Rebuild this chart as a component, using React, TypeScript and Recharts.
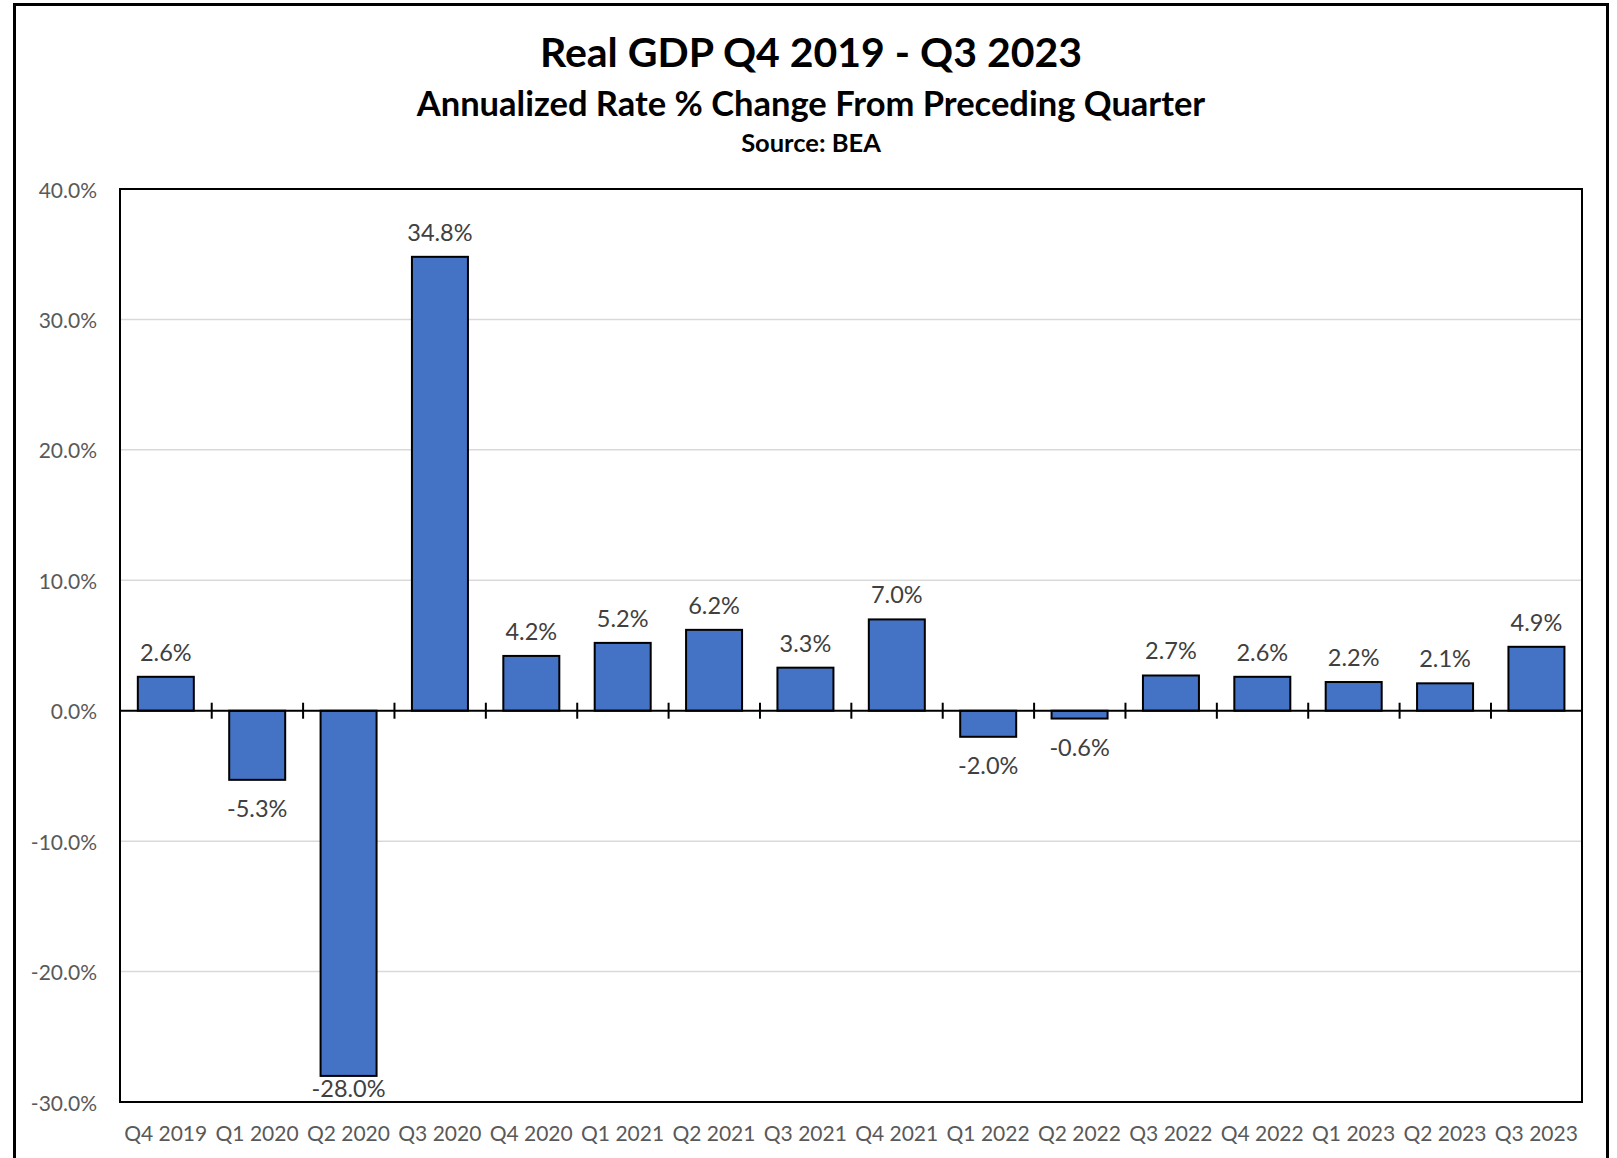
import React from 'react';
import { BarChart, Bar, XAxis, YAxis, CartesianGrid, ReferenceLine, ReferenceArea, LabelList } from 'recharts';

const quarters = ['Q4 2019', 'Q1 2020', 'Q2 2020', 'Q3 2020', 'Q4 2020', 'Q1 2021', 'Q2 2021', 'Q3 2021', 'Q4 2021', 'Q1 2022', 'Q2 2022', 'Q3 2022', 'Q4 2022', 'Q1 2023', 'Q2 2023', 'Q3 2023'];
const gdpChange = [2.6, -5.3, -28.0, 34.8, 4.2, 5.2, 6.2, 3.3, 7.0, -2.0, -0.6, 2.7, 2.6, 2.2, 2.1, 4.9];
const yTicks = [-30, -20, -10, 0, 10, 20, 30, 40];

const data = quarters.map((q, i) => ({ q, gdp: gdpChange[i] }));

const FONT = 'Lato, "Open Sans", sans-serif';
const GAP = 0.195;
const W = 1617;
const H = 1158;
const PLOT_BOTTOM_LABEL_LIMIT = 1088;

const BarShape = (props: any) => {
  const { x, y, width, height, index, payload } = props;
  const top = Math.min(y, y + height);
  const h = Math.abs(height);
  const zero = payload.gdp >= 0 ? top + h : top;
  const slot = width / (1 - 2 * GAP);
  const tx = x + width / 2 + slot / 2;
  return (
    <g>
      <rect x={x} y={top} width={width} height={h} fill="#4472C4" stroke="#000" strokeWidth={2} />
      {index < quarters.length - 1 && (
        <line x1={tx} x2={tx} y1={zero - 8} y2={zero + 8} stroke="#000" strokeWidth={2} />
      )}
    </g>
  );
};

const ValueLabel = (props: any) => {
  const { x, y, width, height, value } = props;
  const top = Math.min(y, y + height);
  const bottom = Math.max(y, y + height);
  let ly = value >= 0 ? top - 25 : bottom + 28;
  if (ly > PLOT_BOTTOM_LABEL_LIMIT) ly = PLOT_BOTTOM_LABEL_LIMIT;
  return (
    <text x={x + width / 2} y={ly} textAnchor="middle" dominantBaseline="central" fill="#404040" fontSize={23.5} fontFamily={FONT}>
      {`${Number(value).toFixed(1)}%`}
    </text>
  );
};

const XTick = (props: any) => {
  const { x, y, payload } = props;
  return (
    <text x={x} y={y + 22} textAnchor="middle" dominantBaseline="central" fill="#595959" fontSize={21} fontFamily={FONT}>
      {payload.value}
    </text>
  );
};

const YTick = (props: any) => {
  const { y, payload } = props;
  return (
    <text x={97} y={y} textAnchor="end" dominantBaseline="central" fill="#595959" fontSize={21} fontFamily={FONT}>
      {`${Number(payload.value).toFixed(1)}%`}
    </text>
  );
};

export default function App() {
  return (
    <div style={{ position: 'fixed', left: 0, top: 0, width: W, height: H, background: '#fff', overflow: 'hidden' }}>
      <div style={{ position: 'absolute', left: 13, top: 3, width: 1596, height: 1200, border: '3px solid #000', boxSizing: 'border-box' }} />
      <div style={{ position: 'absolute', left: 13, width: 1596, top: 27, height: 50, lineHeight: '50px', textAlign: 'center', fontFamily: FONT, fontWeight: 700, fontSize: 41, color: '#000' }}>
        Real GDP Q4 2019 - Q3 2023
      </div>
      <div style={{ position: 'absolute', left: 13, width: 1596, top: 83, height: 40, lineHeight: '40px', textAlign: 'center', fontFamily: FONT, fontWeight: 700, fontSize: 34.5, color: '#000' }}>
        Annualized Rate % Change From Preceding Quarter
      </div>
      <div style={{ position: 'absolute', left: 13, width: 1596, top: 127, height: 30, lineHeight: '30px', textAlign: 'center', fontFamily: FONT, fontWeight: 700, fontSize: 25.5, color: '#000' }}>
        Source: BEA
      </div>
      <div style={{ position: 'absolute', left: 0, top: 0 }}>
        <BarChart width={W} height={H} data={data} margin={{ top: 189, right: 35, bottom: 0, left: 0 }} barCategoryGap={`${GAP * 100}%`}>
          <CartesianGrid vertical={false} stroke="#d9d9d9" strokeWidth={1.5} />
          <XAxis dataKey="q" axisLine={false} tickLine={false} tick={<XTick />} height={56} interval={0} />
          <YAxis domain={[-30, 40]} ticks={yTicks} axisLine={false} tickLine={false} tick={<YTick />} width={120} />
          <ReferenceArea y1={-30} y2={40} fill="none" stroke="#000" strokeWidth={2} />
          <Bar dataKey="gdp" isAnimationActive={false} shape={<BarShape />}>
            <LabelList dataKey="gdp" content={<ValueLabel />} />
          </Bar>
          <ReferenceLine y={0} stroke="#000" strokeWidth={2} />
        </BarChart>
      </div>
    </div>
  );
}
